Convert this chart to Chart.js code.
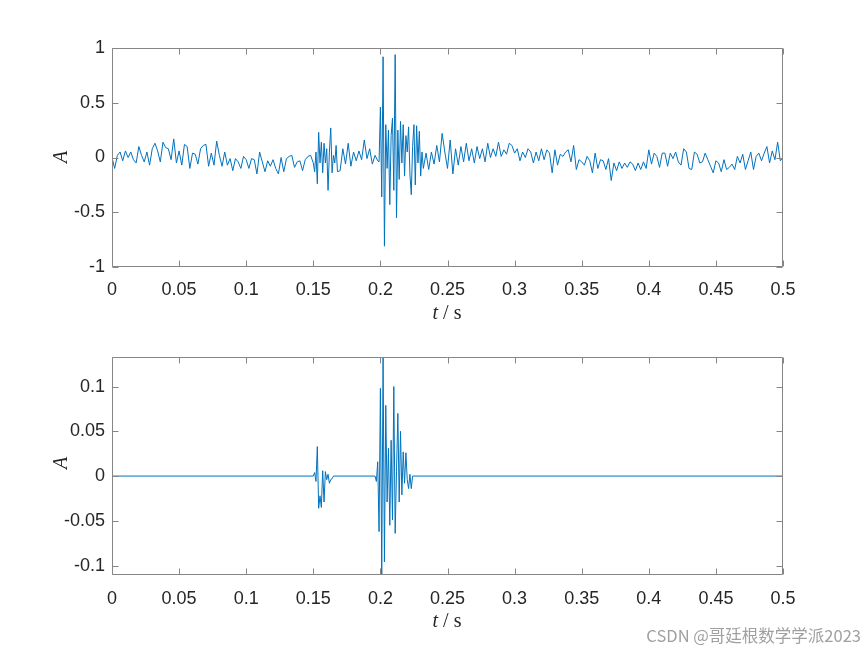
<!DOCTYPE html>
<html>
<head>
<meta charset="utf-8">
<script src="https://cdn.jsdelivr.net/npm/chart.js@4.4.1/dist/chart.umd.min.js"></script>
<style>
  html, body { margin: 0; padding: 0; background: #ffffff; }
  #wrap { position: relative; width: 865px; height: 649px; overflow: hidden; background: #fff; }
  canvas { position: absolute; left: 0; }
  .xt { position: absolute; font-family: "Liberation Serif", "Times New Roman", serif; font-size: 20px; color: #262626; white-space: nowrap; transform: translate(-50%, -50%); }
  .yt { position: absolute; font-family: "Liberation Serif", "Times New Roman", serif; font-size: 20px; color: #262626; font-style: italic; transform: translate(-50%, -50%) rotate(-90deg); }
  #wm { position: absolute; right: 4px; top: 623px; font-family: "Noto Sans CJK SC", "Noto Sans", sans-serif; font-size: 16.5px; color: #a0a0a0; white-space: nowrap; }
</style>
</head>
<body>
<div id="wrap">
  <canvas id="c1" width="865" height="325" style="top:0"></canvas>
  <canvas id="c2" width="865" height="324" style="top:325px"></canvas>
  <div class="xt" style="left:447px; top:312px;"><i>t</i> / s</div>
  <div class="xt" style="left:447px; top:620px;"><i>t</i> / s</div>
  <div class="yt" style="left:60px; top:157px;">A</div>
  <div class="yt" style="left:60px; top:463px;">A</div>
  <div id="wm">CSDN @哥廷根数学学派2023</div>
</div>
<script>
// ---------- data ----------
// x ticks (time, s)
const xTickValues = [0, 0.05, 0.1, 0.15, 0.2, 0.25, 0.3, 0.35, 0.4, 0.45, 0.5];
const xTickLabels = ['0', '0.05', '0.1', '0.15', '0.2', '0.25', '0.3', '0.35', '0.4', '0.45', '0.5'];
const topYTickValues = [-1, -0.5, 0, 0.5, 1];
const topYTickLabels = ['-1', '-0.5', '0', '0.5', '1'];
const botYTickValues = [-0.1, -0.05, 0, 0.05, 0.1];
const botYTickLabels = ['-0.1', '-0.05', '0', '0.05', '0.1'];

// Top panel: raw signal A(t), sampled in segments (start time, step, values)
const rawSegA = [0.0, -0.10, 0.02, 0.05, -0.03, 0.06, 0.0, 0.05, -0.02, -0.05, 0.10, 0.02, -0.04, 0.05, -0.07, 0.08, 0.13, 0.06, -0.04, 0.14, 0.09, 0.08, -0.02, 0.17, -0.05, 0.06, -0.07, 0.12, 0.10, -0.10, 0.04, 0.03, -0.06, 0.08, 0.11, 0.12, -0.08, 0.04, -0.07, 0.15, 0.02, -0.08, 0.05,
  -0.07, -0.01, -0.12, -0.01, -0.04, -0.10, 0.01, -0.02, -0.10, -0.01, -0.02, -0.15, 0.05, -0.04, -0.13, -0.03, -0.08, -0.02, -0.10, -0.15, 0.00, -0.13, -0.01, 0.01, 0.02, -0.09, -0.04, -0.03, -0.12, -0.02, 0.01, 0.02]; // 0.000 .. 0.148 every 2 ms
const rawSegB = [-0.05, -0.13, 0.05, -0.24, 0.23, -0.05, 0.14, -0.14, 0.13, -0.05, 0.08, -0.30, 0.05, 0.27, -0.14, 0.02, -0.05, 0.11, -0.13]; // 0.150 .. 0.168 every 1 ms
const rawSegC = [-0.12, 0.08, -0.06, 0.13, -0.08, 0.05, -0.03, 0.06, -0.02, 0.16, -0.01, 0.08, -0.06, 0.02, -0.03]; // 0.170 .. 0.198 every 2 ms
const rawSegD = [-0.04, 0.46, -0.36, 0.92, -0.81, 0.30, -0.10, 0.25, -0.43, 0.20, 0.36, -0.30, 0.94, -0.55, 0.25, -0.20, 0.33, -0.05, 0.30, -0.17, 0.20, 0.05, 0.28, -0.15, -0.34, 0.10, 0.30, -0.25, 0.29, -0.05, 0.24, -0.17, 0.05]; // 0.199 .. 0.231 every 1 ms
const rawSegE = [-0.10, 0.04, -0.11, 0.05, -0.06, 0.11, -0.04, 0.22, 0.05, -0.10, 0.16, -0.15, 0.08, -0.07, 0.10, -0.04, 0.13, -0.03, 0.08, -0.05, 0.10, -0.01, 0.08, -0.04, 0.13, 0.00, 0.08, 0.01, 0.14, 0.01, 0.07, 0.03, 0.13, 0.11, 0.04, 0.08, -0.03, 0.05, 0.00, 0.08, 0.05, -0.05, 0.05, -0.03,
  0.08, -0.02, 0.07, 0.04, -0.14, 0.07, -0.07, 0.03, 0.01, 0.05, 0.07, -0.04, 0.11, -0.11, -0.02, -0.04, -0.07, 0.01, -0.03, -0.14, 0.04, -0.10, -0.02, -0.03, -0.11, -0.01, -0.21, -0.05, -0.12, -0.04, -0.10, -0.05, -0.09, -0.04, -0.06, -0.12, -0.05, -0.11, -0.04, -0.10, 0.07, -0.06, 0.04, 0.01, -0.09, 0.04,
  0.04, -0.08, 0.04, -0.01, 0.05, -0.04, -0.07, 0.08, 0.05, -0.10, -0.11, 0.05, 0.03, -0.05, -0.04, 0.04, -0.02, -0.08, -0.14, -0.03, -0.05, -0.13, -0.02, -0.11, -0.09, -0.06, -0.11, 0.01, -0.05, 0.03, -0.11, -0.03, 0.05, -0.11, 0.01, 0.04, -0.03, 0.04, 0.10, -0.05, 0.06, -0.02, 0.14, -0.03, 0.0]; // 0.232 .. 0.500 every 2 ms

// Bottom panel: denoised signal (zero outside the two bursts)
const denTime = [0, 0.150, 0.151, 0.152, 0.153, 0.154, 0.155, 0.156, 0.157, 0.158, 0.159, 0.160, 0.161, 0.162, 0.163, 0.164, 0.165,
  0.196, 0.197, 0.198, 0.199, 0.200, 0.201, 0.202, 0.203, 0.204, 0.205, 0.206, 0.207, 0.208, 0.209, 0.210, 0.211, 0.212, 0.213, 0.214, 0.215, 0.216, 0.217, 0.218, 0.219, 0.220, 0.221, 0.222, 0.223, 0.224, 0.5];
const denAmp = [0, 0, 0.004, -0.006, 0.033, -0.036, -0.022, -0.035, 0.006, -0.029, 0.005, -0.004, 0.002, -0.008, -0.004, -0.003, 0,
  0, -0.006, 0.016, -0.062, 0.098, -0.110, 0.133, -0.096, 0.079, -0.029, 0.031, -0.055, 0.040, -0.049, 0.100, -0.064, 0.005, 0.070, -0.029, 0.050, -0.021, 0.027, -0.008, 0.026, -0.004, -0.014, 0.002, -0.014, 0, 0];

// ---------- build ----------
function seg(start, stepMs, vals) {
  return vals.map((v, i) => ({ x: (Math.round(start * 1000) + i * stepMs) / 1000, y: v }));
}
const rawData = [].concat(
  seg(0.000, 2, rawSegA),
  seg(0.150, 1, rawSegB),
  seg(0.170, 2, rawSegC),
  seg(0.199, 1, rawSegD),
  seg(0.232, 2, rawSegE)
);
const denData = denTime.map((t, i) => ({ x: t, y: denAmp[i] }));

const AXIS_COLOR = '#868686';
const TEXT_COLOR = '#262626';
const LINE_COLOR = '#0072BD';

const boxPlugin = {
  id: 'matlabBox',
  afterDatasetsDraw(chart) {
    const { ctx, chartArea: a, scales } = chart;
    const L = Math.round(a.left) + 0.5, R = Math.round(a.right) - 0.5;
    const T = Math.round(a.top) + 0.5, B = Math.round(a.bottom) - 0.5;
    ctx.save();
    ctx.strokeStyle = AXIS_COLOR;
    ctx.lineWidth = 1;
    ctx.beginPath();
    ctx.rect(L, T, R - L, B - T);
    const tl = 6;
    scales.x.ticks.forEach(tk => {
      const px = Math.round(scales.x.getPixelForValue(tk.value)) + 0.5;
      ctx.moveTo(px, B); ctx.lineTo(px, B - tl);
      ctx.moveTo(px, T); ctx.lineTo(px, T + tl);
    });
    scales.y.ticks.forEach(tk => {
      const py = Math.round(scales.y.getPixelForValue(tk.value)) + 0.5;
      if (py < T - 1 || py > B + 1) return;
      ctx.moveTo(L, py); ctx.lineTo(L + tl, py);
      ctx.moveTo(R, py); ctx.lineTo(R - tl, py);
    });
    ctx.stroke();
    ctx.restore();
  }
};

function makeChart(id, data, yMin, yMax, yVals, yLabels, top, xAxisH, xPad) {
  const tickFont = { family: '"Liberation Sans", Arial, Helvetica, sans-serif', size: 18 };
  return new Chart(document.getElementById(id), {
    type: 'line',
    data: { datasets: [{ data: data, borderColor: LINE_COLOR, borderWidth: 1, pointRadius: 0, tension: 0, fill: false }] },
    options: {
      responsive: false, animation: false, devicePixelRatio: 1,
      layout: { padding: { top: top, right: 82, left: 0, bottom: 0 } },
      plugins: { legend: { display: false }, tooltip: { enabled: false } },
      scales: {
        x: {
          type: 'linear', min: 0, max: 0.5,
          afterBuildTicks: s => { s.ticks = xTickValues.map(v => ({ value: v })); },
          afterFit: s => { s.height = xAxisH; },
          ticks: { callback: (v, i) => xTickLabels[i], font: tickFont, color: TEXT_COLOR, padding: xPad, maxRotation: 0, autoSkip: false },
          grid: { display: false, drawTicks: false },
          border: { display: false }
        },
        y: {
          type: 'linear', min: yMin, max: yMax,
          afterBuildTicks: s => { s.ticks = yVals.map(v => ({ value: v })); },
          afterFit: s => { s.width = 112; },
          ticks: { callback: (v, i) => yLabels[i], font: tickFont, color: TEXT_COLOR, padding: 7, autoSkip: false },
          grid: { display: false, drawTicks: false },
          border: { display: false }
        }
      }
    },
    plugins: [boxPlugin]
  });
}

makeChart('c1', rawData, -1, 1, topYTickValues, topYTickLabels, 48, 58, 12);
makeChart('c2', denData, -0.1105, 0.133, botYTickValues, botYTickLabels, 32, 74, 13);
</script>
</body>
</html>
